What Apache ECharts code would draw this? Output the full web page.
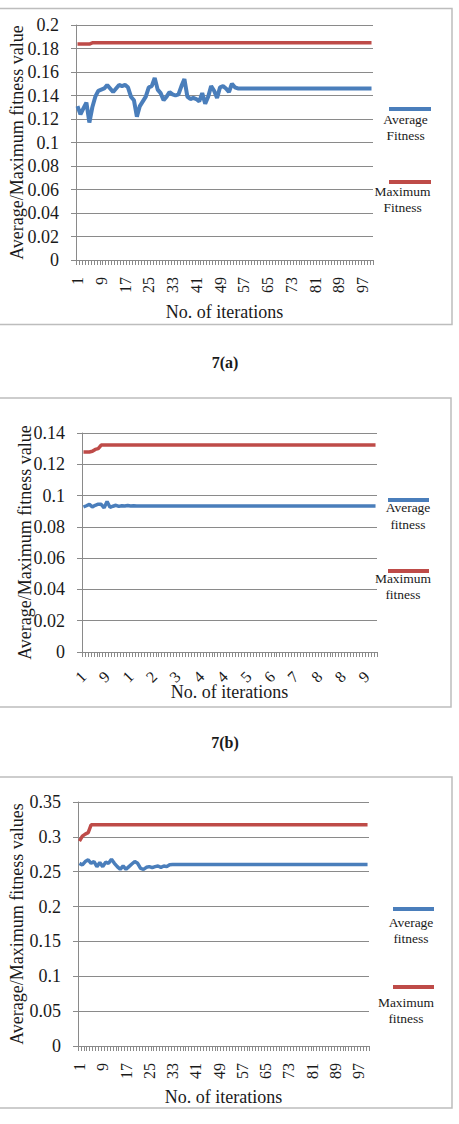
<!DOCTYPE html>
<html>
<head>
<meta charset="utf-8">
<title>Fitness charts</title>
<script src="https://cdn.jsdelivr.net/npm/echarts/dist/echarts.min.js"></script>
<style>
  html, body { margin: 0; padding: 0; background: #fff; }
  #box { width: 459px; height: 1124px; }
</style>
</head>
<body>
<div id="box"></div>
<script>
// x categories: iteration number 1..100
var iterations = [];
for (var i = 1; i <= 100; i++) iterations.push(String(i));

// 7(a)
var avgFitnessA = [
  0.131,0.124,0.129,0.134,0.117,0.130,0.139,0.144,0.145,0.146,
  0.149,0.146,0.143,0.146,0.149,0.148,0.149,0.147,0.139,0.136,
  0.122,0.131,0.135,0.139,0.147,0.148,0.155,0.145,0.142,0.136,
  0.139,0.143,0.141,0.140,0.141,0.148,0.154,0.139,0.137,0.138,
  0.137,0.135,0.142,0.133,0.139,0.148,0.144,0.138,0.147,0.148,
  0.146,0.143,0.150,0.147,0.146,0.146,0.146,0.146,0.146,0.146,
  0.146,0.146,0.146,0.146,0.146,0.146,0.146,0.146,0.146,0.146,
  0.146,0.146,0.146,0.146,0.146,0.146,0.146,0.146,0.146,0.146,
  0.146,0.146,0.146,0.146,0.146,0.146,0.146,0.146,0.146,0.146,
  0.146,0.146,0.146,0.146,0.146,0.146,0.146,0.146,0.146,0.146
];
var maxFitnessA = [
  0.1838,0.1838,0.1838,0.1838,0.1838,0.1848,0.1848,0.1848,0.1848,0.1848,
  0.1848,0.1848,0.1848,0.1848,0.1848,0.1848,0.1848,0.1848,0.1848,0.1848,
  0.1848,0.1848,0.1848,0.1848,0.1848,0.1848,0.1848,0.1848,0.1848,0.1848,
  0.1848,0.1848,0.1848,0.1848,0.1848,0.1848,0.1848,0.1848,0.1848,0.1848,
  0.1848,0.1848,0.1848,0.1848,0.1848,0.1848,0.1848,0.1848,0.1848,0.1848,
  0.1848,0.1848,0.1848,0.1848,0.1848,0.1848,0.1848,0.1848,0.1848,0.1848,
  0.1848,0.1848,0.1848,0.1848,0.1848,0.1848,0.1848,0.1848,0.1848,0.1848,
  0.1848,0.1848,0.1848,0.1848,0.1848,0.1848,0.1848,0.1848,0.1848,0.1848,
  0.1848,0.1848,0.1848,0.1848,0.1848,0.1848,0.1848,0.1848,0.1848,0.1848,
  0.1848,0.1848,0.1848,0.1848,0.1848,0.1848,0.1848,0.1848,0.1848,0.1848
];

// 7(b)
var avgFitnessB = [
  0.0927,0.0935,0.0944,0.0928,0.0938,0.0945,0.0944,0.0922,0.0962,0.0925,
  0.0932,0.0938,0.0931,0.0935,0.0933,0.0936,0.0933,0.0935,0.0933,0.0934,
  0.0933,0.0933,0.0933,0.0933,0.0933,0.0933,0.0933,0.0933,0.0933,0.0933,
  0.0933,0.0933,0.0933,0.0933,0.0933,0.0933,0.0933,0.0933,0.0933,0.0933,
  0.0933,0.0933,0.0933,0.0933,0.0933,0.0933,0.0933,0.0933,0.0933,0.0933,
  0.0933,0.0933,0.0933,0.0933,0.0933,0.0933,0.0933,0.0933,0.0933,0.0933,
  0.0933,0.0933,0.0933,0.0933,0.0933,0.0933,0.0933,0.0933,0.0933,0.0933,
  0.0933,0.0933,0.0933,0.0933,0.0933,0.0933,0.0933,0.0933,0.0933,0.0933,
  0.0933,0.0933,0.0933,0.0933,0.0933,0.0933,0.0933,0.0933,0.0933,0.0933,
  0.0933,0.0933,0.0933,0.0933,0.0933,0.0933,0.0933,0.0933,0.0933,0.0933
];
var maxFitnessB = [
  0.1278,0.1278,0.1279,0.1283,0.1295,0.1300,0.1323,0.1323,0.1323,0.1323,
  0.1323,0.1323,0.1323,0.1323,0.1323,0.1323,0.1323,0.1323,0.1323,0.1323,
  0.1323,0.1323,0.1323,0.1323,0.1323,0.1323,0.1323,0.1323,0.1323,0.1323,
  0.1323,0.1323,0.1323,0.1323,0.1323,0.1323,0.1323,0.1323,0.1323,0.1323,
  0.1323,0.1323,0.1323,0.1323,0.1323,0.1323,0.1323,0.1323,0.1323,0.1323,
  0.1323,0.1323,0.1323,0.1323,0.1323,0.1323,0.1323,0.1323,0.1323,0.1323,
  0.1323,0.1323,0.1323,0.1323,0.1323,0.1323,0.1323,0.1323,0.1323,0.1323,
  0.1323,0.1323,0.1323,0.1323,0.1323,0.1323,0.1323,0.1323,0.1323,0.1323,
  0.1323,0.1323,0.1323,0.1323,0.1323,0.1323,0.1323,0.1323,0.1323,0.1323,
  0.1323,0.1323,0.1323,0.1323,0.1323,0.1323,0.1323,0.1323,0.1323,0.1323
];

// 7(c)
var avgFitnessC = [
  0.2620,0.2597,0.2646,0.2670,0.2620,0.2646,0.2573,0.2630,0.2573,0.2636,
  0.2620,0.2680,0.2620,0.2573,0.2534,0.2582,0.2534,0.2573,0.2611,0.2646,
  0.2620,0.2548,0.2534,0.2563,0.2573,0.2558,0.2573,0.2582,0.2563,0.2582,
  0.2573,0.2600,0.2602,0.2602,0.2602,0.2602,0.2602,0.2602,0.2602,0.2602,
  0.2602,0.2602,0.2602,0.2602,0.2602,0.2602,0.2602,0.2602,0.2602,0.2602,
  0.2602,0.2602,0.2602,0.2602,0.2602,0.2602,0.2602,0.2602,0.2602,0.2602,
  0.2602,0.2602,0.2602,0.2602,0.2602,0.2602,0.2602,0.2602,0.2602,0.2602,
  0.2602,0.2602,0.2602,0.2602,0.2602,0.2602,0.2602,0.2602,0.2602,0.2602,
  0.2602,0.2602,0.2602,0.2602,0.2602,0.2602,0.2602,0.2602,0.2602,0.2602,
  0.2602,0.2602,0.2602,0.2602,0.2602,0.2602,0.2602,0.2602,0.2602,0.2602
];
var maxFitnessC = [
  0.294,0.301,0.304,0.306,0.3172,0.3172,0.3172,0.3172,0.3172,0.3172,
  0.3172,0.3172,0.3172,0.3172,0.3172,0.3172,0.3172,0.3172,0.3172,0.3172,
  0.3172,0.3172,0.3172,0.3172,0.3172,0.3172,0.3172,0.3172,0.3172,0.3172,
  0.3172,0.3172,0.3172,0.3172,0.3172,0.3172,0.3172,0.3172,0.3172,0.3172,
  0.3172,0.3172,0.3172,0.3172,0.3172,0.3172,0.3172,0.3172,0.3172,0.3172,
  0.3172,0.3172,0.3172,0.3172,0.3172,0.3172,0.3172,0.3172,0.3172,0.3172,
  0.3172,0.3172,0.3172,0.3172,0.3172,0.3172,0.3172,0.3172,0.3172,0.3172,
  0.3172,0.3172,0.3172,0.3172,0.3172,0.3172,0.3172,0.3172,0.3172,0.3172,
  0.3172,0.3172,0.3172,0.3172,0.3172,0.3172,0.3172,0.3172,0.3172,0.3172,
  0.3172,0.3172,0.3172,0.3172,0.3172,0.3172,0.3172,0.3172,0.3172,0.3172
];

var chartDom = document.getElementById('box');
var myChart = echarts.init(chartDom, null, { renderer: 'svg' });
var option;

var serif = 'Liberation Serif';
var ink = '#1a1a1a';
var grey = '#8a8a8a';
var blue = '#4a7ebb';
var red = '#be4b48';

function xAxisOf(idx, rotate, margin, nameGap, formatter) {
  return {
    gridIndex: idx,
    type: 'category',
    data: iterations,
    boundaryGap: true,
    axisLine: { lineStyle: { color: grey, width: 1 } },
    axisTick: { show: true, interval: 0, length: 5, lineStyle: { color: grey } },
    axisLabel: {
      interval: 7, rotate: rotate, margin: margin,
      fontFamily: serif, fontSize: 16, color: ink,
      formatter: formatter
    },
    splitLine: { show: false },
    name: 'No. of iterations',
    nameLocation: 'middle',
    nameGap: nameGap,
    nameMoveOverlap: false,
    nameTextStyle: { fontFamily: serif, fontSize: 18, color: ink }
  };
}

function yAxisOf(idx, max, step, name, nameGap) {
  return {
    gridIndex: idx,
    type: 'value',
    min: 0,
    max: max,
    interval: step,
    axisLine: { show: true, lineStyle: { color: grey, width: 1 } },
    axisTick: { show: true, length: 5, lineStyle: { color: grey } },
    splitLine: { show: true, lineStyle: { color: grey, width: 1 } },
    axisLabel: { margin: 17, fontFamily: serif, fontSize: 18, color: ink },
    name: name,
    nameLocation: 'middle',
    nameGap: nameGap,
    nameMoveOverlap: false,
    nameTextStyle: { fontFamily: serif, fontSize: 18, color: ink }
  };
}

function lineOf(name, idx, data, color, width) {
  return {
    name: name,
    type: 'line',
    xAxisIndex: idx,
    yAxisIndex: idx,
    data: data,
    symbol: 'none',
    showSymbol: false,
    lineStyle: { color: color, width: width },
    itemStyle: { color: color },
    z: 3
  };
}

function legendOf(x1, x2, y, color, tx, ty, text) {
  return [
    { type: 'line', shape: { x1: x1, y1: y, x2: x2, y2: y },
      style: { stroke: color, lineWidth: 4 } },
    { type: 'text', x: tx, y: ty,
      style: { text: text, fontFamily: serif, fontSize: 13.5, lineHeight: 16.5,
               fill: ink, align: 'center', verticalAlign: 'top' } }
  ];
}

function frameOf(y, w, h) {
  return { type: 'rect', shape: { x: -1, y: y, width: w, height: h },
           style: { fill: 'none', stroke: '#bdbdbd', lineWidth: 1.5 } };
}

option = {
  backgroundColor: '#fff',
  animation: false,
  grid: [
    { left: 76, top: 25, width: 297, height: 235, containLabel: false },
    { left: 82, top: 433, width: 295, height: 219, containLabel: false },
    { left: 73, top: 802, width: 296, height: 244, containLabel: false }
  ],
  xAxis: [
    xAxisOf(0, 90, 17, 43),
    xAxisOf(1, 45, 22, 31, function (v) { return String(v).charAt(0); }),
    xAxisOf(2, 90, 17, 42)
  ],
  yAxis: [
    yAxisOf(0, 0.2, 0.02, 'Average/Maximum fitness value', 50),
    yAxisOf(1, 0.14, 0.02, 'Average/Maximum fitness value', 48),
    yAxisOf(2, 0.35, 0.05, 'Average/Maximum fitness values', 52)
  ],
  series: [
    lineOf('Average Fitness', 0, avgFitnessA, blue, 4),
    lineOf('Maximum Fitness', 0, maxFitnessA, red, 3.5),
    lineOf('Average fitness', 1, avgFitnessB, blue, 3.5),
    lineOf('Maximum fitness', 1, maxFitnessB, red, 3.5),
    lineOf('Average fitness', 2, avgFitnessC, blue, 3.5),
    lineOf('Maximum fitness', 2, maxFitnessC, red, 3.5)
  ],
  graphic: [
    frameOf(8.5, 453, 316),
    frameOf(398, 452, 309),
    frameOf(777, 453, 331),
    { type: 'text', x: 225, y: 362,
      style: { text: '7(a)', fontFamily: serif, fontSize: 16, fontWeight: 'bold',
               fill: ink, align: 'center', verticalAlign: 'middle' } },
    { type: 'text', x: 225, y: 742,
      style: { text: '7(b)', fontFamily: serif, fontSize: 16, fontWeight: 'bold',
               fill: ink, align: 'center', verticalAlign: 'middle' } }
  ]
    .concat(legendOf(389, 431, 109, blue, 405.5, 111, 'Average\nFitness'))
    .concat(legendOf(389, 431, 182, red, 402.5, 183, 'Maximum\nFitness'))
    .concat(legendOf(388, 429, 500, blue, 408, 499.5, 'Average\nfitness'))
    .concat(legendOf(388, 429, 571, red, 403, 570, 'Maximum\nfitness'))
    .concat(legendOf(393, 434, 909, blue, 411, 914, 'Average\nfitness'))
    .concat(legendOf(393, 434, 987, red, 406, 994, 'Maximum\nfitness'))
};

option && myChart.setOption(option);
</script>
</body>
</html>
